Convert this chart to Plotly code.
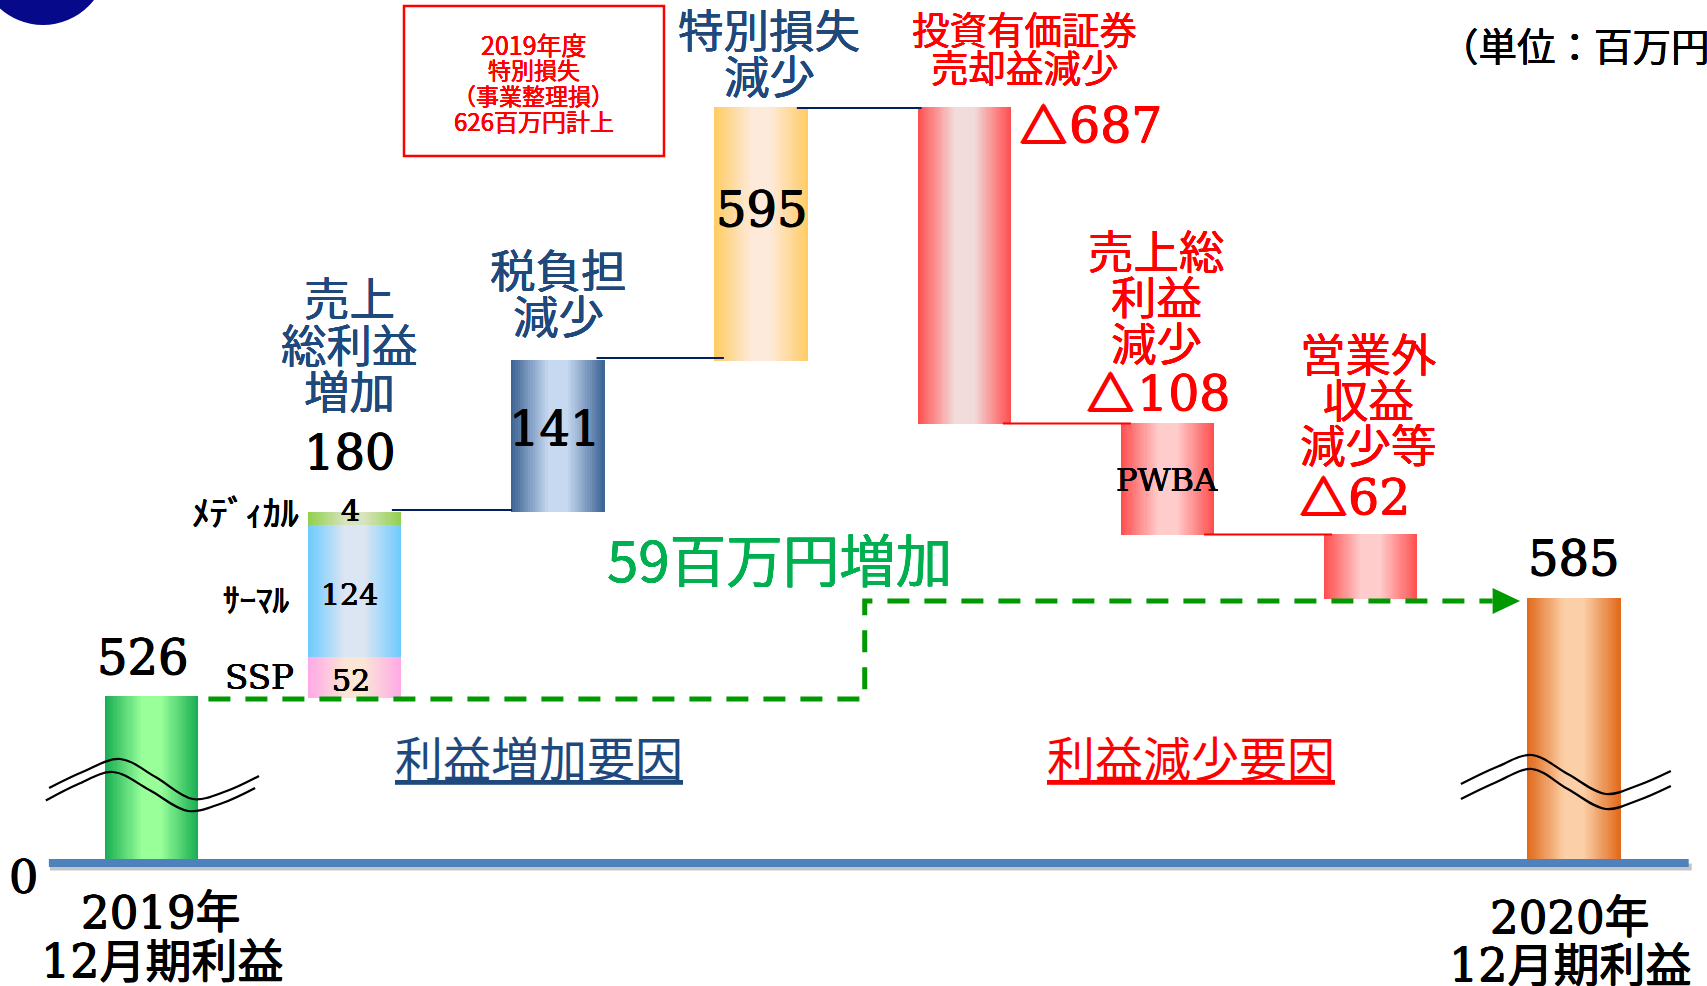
import plotly.graph_objects as go

# ---------- data ----------
categories = ["2019年12月期利益", "SSP", "サーマル", "メディカル", "税負担減少", "特別損失減少",
              "投資有価証券売却益減少", "売上総利益減少", "営業外収益減少等", "2020年12月期利益"]
bar_slot = [0, 1, 1, 1, 2, 3, 4, 5, 6, 7]
# drawn extents on the chart's broken scale (the picture is not to scale with its labels)
drawn_low = [0, 163, 204, 336, 349, 500, 437, 326, 262, 0]
drawn_high = [165, 204, 336, 349, 501, 754, 754, 438, 327, 263]
edge_colors = ["#1AAF54", "#FFA9E6", "#6FCBFF", "#92D050", "#3F6595", "#FFCC66",
               "#FF5050", "#FF5050", "#FF5050", "#E26B1E"]
center_colors = ["#99FF99", "#FBE5D6", "#DCE6F2", "#D7E4BD", "#C6D9F1", "#FDEADA",
                 "#F2DCDB", "#FFCCCC", "#FFCCCC", "#FBD0A8"]

connector_levels = [351, 503, 753, 437.5, 326.5]
connector_start = [1.183, 2.19, 3.176, 4.19, 5.18]
connector_end = [1.774, 2.817, 3.79, 4.82, 5.81]
connector_colors = ["#002060", "#002060", "#002060", "#FF0000", "#FF0000"]

trend_x = [0.28, 3.51, 3.51, 6.6]
trend_y = [162, 162, 260, 260]
trend_head_x = [6.60, 6.735, 6.60, 6.60]
trend_head_y = [273, 260, 247, 273]

wave_left_upper = ([-0.504, -0.34, -0.155, 0.02, 0.204, 0.37, 0.529], [73, 89, 102, 84, 62, 70, 85])
wave_left_lower = ([-0.52, -0.36, -0.19, -0.01, 0.18, 0.35, 0.51], [60.5, 77, 89, 71, 50, 58, 73])
wave_right_upper = ([-0.556, -0.38, -0.207, -0.03, 0.157, 0.32, 0.477], [77, 94, 106, 87, 67, 76, 90])
wave_right_lower = ([-0.556, -0.38, -0.207, -0.03, 0.157, 0.32, 0.477], [62, 79, 92, 72, 52, 61, 75])

# ---------- layout constants ----------
W, H = 1707, 986
SLOT0, SLOT = 151.5, 203.2
BASE_PX = 861
BAR_W = 93.4 / SLOT
GRADIENT_STEPS = 18
PLATEAU = 0.22

CJK = "Noto Sans CJK JP"
SERIF = "DejaVu Serif, Noto Sans CJK JP"
BLUE, RED, GREEN = "#1F497D", "#FF0000", "#00B050"


def rgb(h):
    return [int(h[i:i + 2], 16) for i in (1, 3, 5)]


def mix(a, b, t):
    ca, cb = rgb(a), rgb(b)
    return "rgb(%d,%d,%d)" % tuple(round(x + (y - x) * t) for x, y in zip(ca, cb))


fig = go.Figure()

# gradient bars: nested bars narrowing toward the centre colour
for k in range(GRADIENT_STEPS):
    t = k / (GRADIENT_STEPS - 1)
    fig.add_bar(
        x=bar_slot,
        y=[h - l for h, l in zip(drawn_high, drawn_low)],
        base=drawn_low,
        width=BAR_W * (1 - t * (1 - PLATEAU)),
        marker=dict(color=[mix(e, c, t) for e, c in zip(edge_colors, center_colors)], line_width=0),
        hovertext=categories,
        hoverinfo="text",
        showlegend=False,
    )

# connectors
for x0, x1, lev, col in zip(connector_start, connector_end, connector_levels, connector_colors):
    fig.add_scatter(x=[x0, x1], y=[lev, lev], mode="lines",
                    line=dict(color=col, width=2), showlegend=False, hoverinfo="skip")

# dashed trend
fig.add_scatter(x=trend_x, y=trend_y, mode="lines",
                line=dict(color="#009900", width=5, dash="22px,15px"),
                showlegend=False, hoverinfo="skip")
fig.add_scatter(x=trend_head_x, y=trend_head_y, mode="lines", fill="toself", fillcolor="#009900",
                line=dict(color="#009900", width=0), showlegend=False, hoverinfo="skip")

# break marks
for (xs, ys), anchor in [(wave_left_upper, 0), (wave_left_lower, 0), (wave_right_upper, 7), (wave_right_lower, 7)]:
    fig.add_scatter(x=[anchor + v for v in xs], y=ys, mode="lines",
                    line=dict(color="black", width=2.2, shape="spline", smoothing=1),
                    showlegend=False, hoverinfo="skip")

# baseline with shadow
fig.add_scatter(x=[-0.5, 7.58], y=[-6, -6], mode="lines", line=dict(color="rgba(90,90,90,0.35)", width=7),
                showlegend=False, hoverinfo="skip")
fig.add_scatter(x=[-0.505, 7.565], y=[-2, -2], mode="lines", line=dict(color="#4F81BD", width=8),
                showlegend=False, hoverinfo="skip")


def label(text, px, py, size, color="black", family=CJK, anchor="center", heavy=0.35, weight=None):
    font = dict(size=size, color=color, family=family)
    if heavy:
        font["shadow"] = f"{heavy}px 0 0 {color}, -{heavy}px 0 0 {color}, 0 {heavy}px 0 {color}, 0 -{heavy}px 0 {color}"
    if weight:
        font["weight"] = weight
    fig.add_annotation(x=px / W, y=1 - py / H, xref="paper", yref="paper", text=text, showarrow=False,
                       xanchor=anchor, yanchor="middle", align="center", font=font)


for text, px, py in [("売上", 349.5, 296), ("総利益", 349.5, 343), ("増加", 349.5, 389),
                     ("税負担", 558.5, 268), ("減少", 558.5, 314),
                     ("特別損失", 769, 28), ("減少", 769, 74)]:
    label(text, px, py, 45.5, BLUE)
for text, px, py in [("売上総", 1156, 249), ("利益", 1156, 295), ("減少", 1156, 341),
                     ("営業外", 1368.5, 352), ("収益", 1368.5, 398), ("減少等", 1368.5, 443)]:
    label(text, px, py, 45.5, RED)
label("投資有価証券", 1024.5, 28, 37.5, RED)
label("売却益減少", 1024.5, 66, 37.5, RED)

for tri_x, tri_y, text, px, py in [(1043, 122, "687", 1116, 125), (1110.5, 390, "108", 1184, 393),
                                   (1323, 495, "62", 1379, 498)]:
    label("△", tri_x, tri_y, 47, RED, CJK, weight=700, heavy=1.2)
    label(text, px, py, 49, RED, SERIF, heavy=0.5)
for text, px, py in [("180", 349.5, 452), ("526", 143, 657), ("585", 1574, 558),
                     ("141", 555, 428), ("595", 762, 209)]:
    label(text, px, py, 48, "black", SERIF, heavy=0.5)
for text, px, py in [("4", 350, 510), ("124", 349.5, 594), ("52", 350.5, 680)]:
    label(text, px, py, 30, "black", SERIF, heavy=0.4)
label("PWBA", 1167, 480, 32, "black", SERIF, heavy=0.3)
label("SSP", 259, 677, 34, "black", SERIF, heavy=0.3)
label("0", 23, 877, 46, "black", SERIF, heavy=0.4)
label("ﾒﾃﾞｨｶﾙ", 246, 510, 35.5, heavy=0.4)
label("ｻｰﾏﾙ", 256, 598, 33, heavy=0.4)

label("2019年", 161, 912, 45, "black", SERIF, heavy=0.5)
label("12月期利益", 162, 961, 46, "black", SERIF, heavy=0.5)
label("2020年", 1570, 917, 45, "black", SERIF, heavy=0.5)
label("12月期利益", 1570, 965, 46, "black", SERIF, heavy=0.5)

label("59百万円増加", 779.5, 557, 56.5, GREEN)
label("<u>利益増加要因</u>", 539, 756, 48, BLUE, heavy=0)
label("<u>利益減少要因</u>", 1191, 756, 48, RED, heavy=0)
label("（単位：百万円", 1438, 44, 38.5, "black", CJK, "left")

for text, size, py in [("2019年度", 25, 44), ("特別損失", 23, 69), ("（事業整理損）", 23, 95), ("626百万円計上", 24, 121)]:
    label(text, 533.5, py, size, RED, heavy=0.1)

fig.update_layout(
    width=W, height=H, autosize=False,
    margin=dict(l=0, r=0, t=0, b=0),
    paper_bgcolor="white", plot_bgcolor="white",
    barmode="overlay", bargap=0,
    xaxis=dict(range=[-SLOT0 / SLOT, (W - SLOT0) / SLOT], visible=False, fixedrange=True),
    yaxis=dict(range=[BASE_PX - H, BASE_PX], visible=False, fixedrange=True),
    shapes=[
        dict(type="rect", xref="paper", yref="paper", x0=404 / W, x1=664 / W, y0=1 - 6 / H, y1=1 - 156 / H,
             line=dict(color=RED, width=2.5)),
        dict(type="circle", xref="paper", yref="paper", x0=-21.6 / W, x1=107.6 / W, y0=1 + 104.6 / H, y1=1 - 25 / H,
             fillcolor="#06098A", line_width=0, layer="above"),
    ],
    hovermode="closest",
)

fig.write_html("out.html", post_script="document.body.style.margin='0';", config={"displayModeBar": False})
